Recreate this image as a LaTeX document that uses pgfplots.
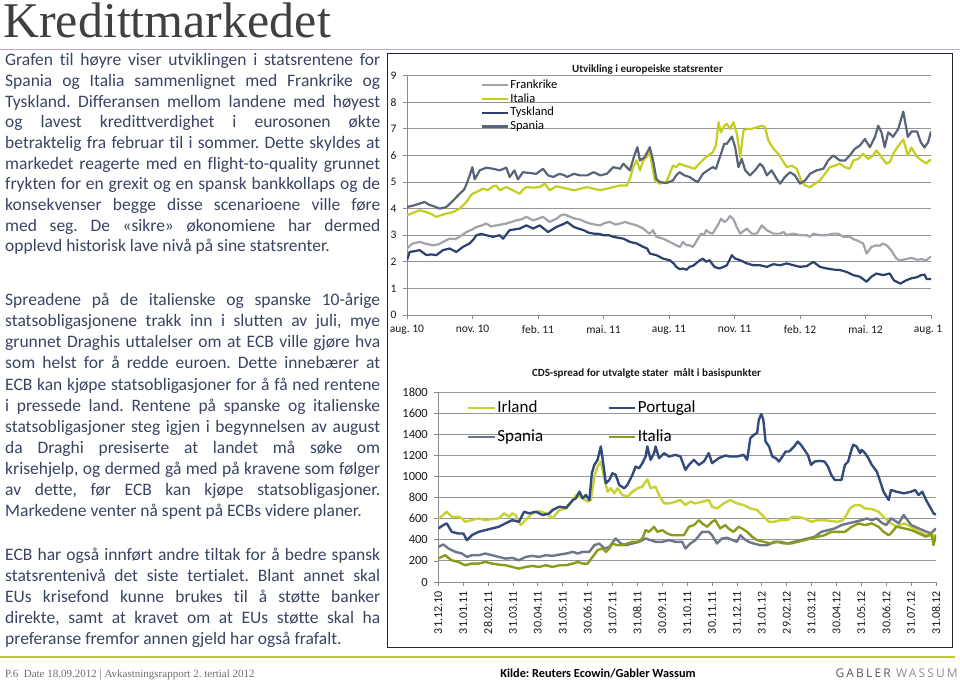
\documentclass[border=0pt]{standalone}
\usepackage{fontspec}
\setmainfont[Ligatures={TeX,NoCommon}]{Carlito}
\newfontfamily\seriffont{Liberation Serif}
\newfontfamily\gablerfont[LetterSpace=18]{Open Sans}
\usepackage{pgfplots}
\pgfplotsset{compat=1.18}
\definecolor{bodytext}{RGB}{58,68,98}
\definecolor{titlegray}{RGB}{64,64,66}
\definecolor{greenline}{RGB}{190,200,50}
\definecolor{gridgray}{RGB}{150,150,150}
\definecolor{axisgray}{RGB}{140,140,140}
\definecolor{frank}{RGB}{160,163,170}
\definecolor{italia}{RGB}{196,206,30}
\definecolor{tysk}{RGB}{45,65,110}
\definecolor{spania}{RGB}{90,100,120}
\definecolor{irland}{RGB}{200,210,50}
\definecolor{portugal}{RGB}{50,75,122}
\definecolor{spaniab}{RGB}{110,118,138}
\definecolor{italiab}{RGB}{140,155,25}
\definecolor{footgray}{RGB}{110,110,110}
\definecolor{gab1}{RGB}{85,90,95}
\definecolor{gab2}{RGB}{140,145,150}
\newcommand{\Jline}[1]{\makebox[375bp][s]{#1}}
\newcommand{\Lline}[1]{\makebox[375bp][l]{#1}}
\frenchspacing
\begin{document}
\begin{tikzpicture}[x=1bp,y=1bp]
\useasboundingbox (0,0) rectangle (960,685);
\fill[white] (0,0) rectangle (960,685);
% page title
\node[anchor=base west, inner sep=0, text height=34bp, text=titlegray, font=\seriffont\fontsize{50bp}{50bp}\selectfont] at (3,685-37.5) {Kredittmarkedet};
\draw[greenline, line width=1.6bp] (0,685-49.5) -- (960,685-49.5);
\draw[greenline, line width=2.5bp] (0,685-657) -- (955,685-657);
% body text
\node[anchor=base west, inner sep=0, text=bodytext] at (5,685-65.7) {\parbox[t]{375bp}{\fontsize{17.5bp}{20.7bp}\selectfont
\Jline{Grafen til høyre viser utviklingen i statsrentene for}\\
\Jline{Spania og Italia sammenlignet med Frankrike og}\\
\Jline{Tyskland. Differansen mellom landene med høyest}\\
\Jline{og lavest kredittverdighet i eurosonen økte}\\
\Jline{betraktelig fra februar til i sommer. Dette skyldes at}\\
\Jline{markedet reagerte med en flight-to-quality grunnet}\\
\Jline{frykten for en grexit og en spansk bankkollaps og de}\\
\Jline{konsekvenser begge disse scenarioene ville føre}\\
\Jline{med seg. De «sikre» økonomiene har dermed}\\
\Lline{opplevd historisk lave nivå på sine statsrenter.}}};
\node[anchor=base west, inner sep=0, text=bodytext] at (5,685-305.7) {\parbox[t]{375bp}{\fontsize{17.5bp}{21.1bp}\selectfont
\Jline{Spreadene på de italienske og spanske 10-årige}\\
\Jline{statsobligasjonene trakk inn i slutten av juli, mye}\\
\Jline{grunnet Draghis uttalelser om at ECB ville gjøre hva}\\
\Jline{som helst for å redde euroen. Dette innebærer at}\\
\Jline{ECB kan kjøpe statsobligasjoner for å få ned rentene}\\
\Jline{i pressede land. Rentene på spanske og italienske}\\
\Jline{statsobligasjoner steg igjen i begynnelsen av august}\\
\Jline{da Draghi presiserte at landet må søke om}\\
\Jline{krisehjelp, og dermed gå med på kravene som følger}\\
\Jline{av dette, før ECB kan kjøpe statsobligasjoner.}\\
\Lline{Markedene venter nå spent på ECBs videre planer.}}};
\node[anchor=base west, inner sep=0, text=bodytext] at (5,685-560.7) {\parbox[t]{375bp}{\fontsize{17.5bp}{21bp}\selectfont
\Jline{ECB har også innført andre tiltak for å bedre spansk}\\
\Jline{statsrentenivå det siste tertialet. Blant annet skal}\\
\Jline{EUs krisefond kunne brukes til å støtte banker}\\
\Jline{direkte, samt at kravet om at EUs støtte skal ha}\\
\Lline{preferanse fremfor annen gjeld har også frafalt.}}};
% footer
\node[anchor=base west, inner sep=0, text=footgray, font=\seriffont\fontsize{11bp}{12bp}\selectfont] at (5,685-678) {P.6\enspace Date 18.09.2012 | Avkastningsrapport 2. tertial 2012};
\node[anchor=base, inner sep=0, text=black, font=\bfseries\fontsize{12.3bp}{13bp}\selectfont] at (598,685-678) {Kilde: Reuters Ecowin/Gabler Wassum};
\node[anchor=base east, inner sep=0, font=\gablerfont\fontsize{12bp}{13bp}\selectfont] at (958,685-678) {\textcolor{gab1}{GABLER} \textcolor{gab2}{WASSUM}};
% frame
\draw[black!85, line width=0.8bp] (387,685-53) rectangle (952,685-647);
% chart titles
\node[font=\bfseries\fontsize{11bp}{13bp}\selectfont, text=black!90] at (647.5,685-69.3) {Utvikling i europeiske statsrenter};
\node[font=\bfseries\fontsize{11bp}{13bp}\selectfont, text=black!90] at (646.5,685-373.3) {CDS-spread for utvalgte stater\ \ målt i basispunkter};

% ================= chart 1 =================
\begin{axis}[
 at={(407bp,370bp)}, anchor=south west, scale only axis,
 width=524bp, height=239.3bp,
 xmin=0, xmax=24, ymin=0, ymax=9,
 axis x line*=bottom, axis y line*=left,
 axis line style={draw=axisgray, line width=0.8bp},
 ymajorgrids, grid style={draw=gridgray, line width=0.9bp},
 xtick={0,3,6,9,12,15,18,21,24},
 xticklabels={aug. 10,nov. 10,feb. 11,mai. 11,aug. 11,nov. 11,feb. 12,mai. 12,aug. 1\phantom{2}},
 ytick={0,1,2,3,4,5,6,7,8,9},
 yticklabels={0,1,2,3,4,5,6,7,8,9},
 tick align=outside, major tick length=4bp,
 tick style={draw=axisgray, line width=0.8bp},
 xticklabel style={font=\fontsize{11.5bp}{13bp}\selectfont, text=black!90, yshift=-3bp},
 yticklabel style={font=\fontsize{11.5bp}{13bp}\selectfont, text=black!90, xshift=-3bp},
 legend cell align=left,
 legend image code/.code={\draw[#1] (0bp,0bp) -- (26bp,0bp);},
 legend style={at={(axis cs:3.376,8.87)}, anchor=north west, draw=none, fill=none,
   font=\fontsize{12.5bp}{13bp}\selectfont, inner sep=0pt, column sep=1.3bp, row sep=1.7bp,
   nodes={inner sep=0pt, text height=9bp, text depth=3bp}},
 every axis plot/.append style={line width=2.2bp, line join=round},
]
\addplot[frank] coordinates {(0,2.5)(0.15,2.62)(0.27,2.69)(0.58,2.75)(0.85,2.68)(1.19,2.62)(1.45,2.66)(1.65,2.75)(1.95,2.87)(2.2,2.85)(2.41,2.94)(2.72,3.12)(2.95,3.2)(3.18,3.31)(3.4,3.36)(3.63,3.44)(3.85,3.33)(4.09,3.37)(4.3,3.4)(4.55,3.44)(4.8,3.5)(5.01,3.56)(5.25,3.6)(5.47,3.69)(5.77,3.56)(6.0,3.62)(6.23,3.69)(6.53,3.5)(6.84,3.62)(7.05,3.75)(7.22,3.78)(7.48,3.69)(7.7,3.62)(7.94,3.59)(8.15,3.5)(8.39,3.44)(8.6,3.4)(8.85,3.37)(9.05,3.46)(9.3,3.5)(9.55,3.4)(9.76,3.44)(10.0,3.5)(10.21,3.44)(10.52,3.37)(10.82,3.25)(11.0,3.12)(11.12,3.06)(11.27,3.19)(11.42,2.94)(11.73,2.87)(12.03,2.75)(12.2,2.68)(12.33,2.62)(12.5,2.56)(12.64,2.75)(12.8,2.62)(12.94,2.62)(13.1,2.56)(13.24,2.75)(13.47,3.06)(13.6,3.0)(13.7,3.19)(13.85,3.1)(14.0,3.06)(14.23,3.37)(14.38,3.62)(14.53,3.5)(14.65,3.56)(14.8,3.72)(14.95,3.6)(15.1,3.31)(15.26,3.06)(15.4,3.15)(15.56,3.25)(15.79,3.06)(16.02,3.06)(16.25,3.37)(16.48,3.19)(16.78,3.06)(17.09,3.06)(17.25,3.12)(17.39,3.0)(17.7,3.06)(18.0,3.0)(18.31,3.0)(18.45,2.94)(18.61,3.06)(18.91,3.0)(19.22,3.0)(19.52,3.06)(19.75,3.06)(19.98,2.94)(20.28,2.94)(20.45,2.85)(20.59,2.81)(20.75,2.75)(20.89,2.69)(21.05,2.31)(21.27,2.56)(21.5,2.62)(21.65,2.6)(21.8,2.69)(22.0,2.6)(22.2,2.4)(22.42,2.12)(22.59,2.05)(22.85,2.1)(23.1,2.15)(23.35,2.08)(23.6,2.1)(23.77,2.05)(24,2.2)};
\addlegendentry{Frankrike}
\addplot[italia] coordinates {(0,3.75)(0.3,3.85)(0.58,3.94)(0.89,3.87)(1.1,3.8)(1.34,3.69)(1.55,3.75)(1.8,3.81)(2.11,3.87)(2.41,4.0)(2.6,4.15)(2.72,4.25)(2.87,4.44)(2.99,4.56)(3.18,4.62)(3.48,4.75)(3.7,4.7)(3.94,4.84)(4.09,4.87)(4.24,4.69)(4.55,4.81)(4.7,4.75)(4.85,4.69)(5.16,4.56)(5.3,4.7)(5.47,4.81)(5.77,4.79)(6.08,4.81)(6.31,4.94)(6.53,4.69)(6.84,4.84)(7.05,4.8)(7.33,4.75)(7.64,4.69)(7.94,4.75)(8.24,4.81)(8.55,4.75)(8.85,4.69)(9.15,4.75)(9.45,4.81)(9.76,4.87)(10.06,4.87)(10.21,5.12)(10.36,5.56)(10.52,5.81)(10.67,5.44)(10.82,5.81)(10.97,5.94)(11.12,6.12)(11.35,5.06)(11.58,4.94)(11.88,5.0)(12.03,5.31)(12.18,5.62)(12.33,5.56)(12.48,5.69)(12.71,5.62)(12.94,5.56)(13.17,5.5)(13.39,5.69)(13.7,5.94)(14.0,6.12)(14.15,6.37)(14.27,7.25)(14.38,6.87)(14.53,7.12)(14.65,7.19)(14.8,7.0)(14.95,7.25)(15.11,6.81)(15.26,5.94)(15.41,6.94)(15.56,7.0)(15.79,7.0)(16.02,7.06)(16.25,7.12)(16.4,7.06)(16.55,6.56)(16.78,6.25)(17.01,6.06)(17.16,5.87)(17.39,5.56)(17.62,5.62)(17.85,5.5)(18.08,5.0)(18.23,4.87)(18.46,4.81)(18.69,4.94)(18.91,5.06)(19.14,5.31)(19.37,5.56)(19.6,5.62)(19.83,5.69)(20.06,5.56)(20.28,5.5)(20.44,5.81)(20.66,5.87)(20.89,6.06)(21.12,5.87)(21.35,6.0)(21.5,6.19)(21.73,5.94)(21.96,5.69)(22.11,5.75)(22.3,6.1)(22.45,6.3)(22.73,6.6)(22.94,6.0)(23.1,6.3)(23.35,5.95)(23.6,5.8)(23.77,5.7)(24,5.85)};
\addlegendentry{Italia}
\addplot[tysk] coordinates {(0,2.06)(0.12,2.37)(0.35,2.4)(0.58,2.44)(0.89,2.25)(1.1,2.28)(1.34,2.25)(1.65,2.44)(1.95,2.5)(2.26,2.37)(2.56,2.56)(2.87,2.69)(3.05,2.85)(3.18,3.0)(3.4,3.05)(3.63,3.0)(3.94,2.94)(4.24,3.0)(4.4,2.87)(4.7,3.19)(5.16,3.25)(5.47,3.37)(5.77,3.25)(6.08,3.37)(6.46,3.12)(6.84,3.31)(7.22,3.44)(7.33,3.5)(7.64,3.31)(7.85,3.25)(8.09,3.19)(8.3,3.1)(8.55,3.06)(8.8,3.05)(9.0,3.0)(9.25,3.0)(9.45,2.94)(9.7,2.9)(9.91,2.87)(10.21,2.75)(10.52,2.69)(10.82,2.56)(11.0,2.5)(11.12,2.31)(11.42,2.25)(11.73,2.12)(12.03,2.06)(12.2,1.95)(12.33,1.81)(12.5,1.72)(12.64,1.75)(12.8,1.7)(12.94,1.81)(13.1,1.85)(13.24,1.94)(13.4,2.05)(13.55,2.12)(13.7,2.0)(13.85,2.06)(14.08,1.81)(14.3,1.75)(14.5,1.81)(14.65,1.87)(14.88,2.25)(15.03,2.12)(15.26,2.06)(15.56,1.94)(15.87,1.87)(16.17,1.87)(16.48,1.81)(16.78,1.91)(17.09,1.87)(17.39,1.94)(17.7,1.87)(18.0,1.81)(18.31,1.84)(18.61,2.0)(18.91,1.81)(19.22,1.75)(19.52,1.71)(19.83,1.69)(20.13,1.62)(20.44,1.5)(20.74,1.44)(21.05,1.25)(21.27,1.44)(21.5,1.56)(21.8,1.5)(22.11,1.56)(22.3,1.3)(22.6,1.18)(22.85,1.3)(23.1,1.38)(23.35,1.42)(23.55,1.5)(23.7,1.52)(23.8,1.35)(24,1.35)};
\addlegendentry{Tyskland}
\addplot[spania] coordinates {(0,4.06)(0.3,4.12)(0.58,4.19)(0.81,4.25)(1.0,4.15)(1.19,4.1)(1.5,4.0)(1.8,4.06)(2.11,4.3)(2.41,4.56)(2.6,4.7)(2.72,4.9)(2.87,5.25)(2.99,5.56)(3.1,5.1)(3.33,5.44)(3.63,5.54)(3.94,5.5)(4.24,5.44)(4.55,5.54)(4.7,5.19)(4.92,5.44)(5.08,5.1)(5.31,5.37)(5.62,5.34)(5.92,5.31)(6.23,5.5)(6.46,5.25)(6.69,5.19)(6.99,5.31)(7.22,5.25)(7.33,5.19)(7.64,5.31)(7.94,5.25)(8.24,5.25)(8.55,5.37)(8.85,5.25)(9.15,5.31)(9.45,5.56)(9.76,5.5)(9.91,5.69)(10.06,5.56)(10.21,5.44)(10.39,5.94)(10.55,6.31)(10.67,5.81)(10.89,5.94)(11.12,6.31)(11.27,5.81)(11.42,5.12)(11.58,5.0)(11.88,4.96)(12.18,5.06)(12.33,5.25)(12.48,5.37)(12.71,5.25)(12.94,5.19)(13.17,5.06)(13.32,5.0)(13.55,5.31)(13.77,5.44)(14.0,5.56)(14.15,5.5)(14.38,6.06)(14.53,6.44)(14.65,6.44)(14.88,6.71)(15.03,6.31)(15.18,5.56)(15.33,5.87)(15.49,5.44)(15.71,5.25)(15.94,5.44)(16.17,5.69)(16.32,5.56)(16.48,5.25)(16.7,5.44)(16.93,5.12)(17.09,4.94)(17.31,5.19)(17.54,5.37)(17.77,5.25)(18.0,4.94)(18.23,5.06)(18.46,5.31)(18.76,5.44)(19.07,5.5)(19.29,5.81)(19.52,6.0)(19.83,5.81)(20.06,5.81)(20.28,6.0)(20.51,6.25)(20.74,6.37)(20.97,6.62)(21.2,6.31)(21.43,6.69)(21.58,7.12)(21.73,6.87)(21.88,6.31)(22.04,6.87)(22.26,6.7)(22.5,7.0)(22.73,7.65)(22.94,6.7)(23.11,6.9)(23.36,6.9)(23.53,6.5)(23.7,6.3)(23.87,6.5)(24,6.9)};
\addlegendentry{Spania}
\end{axis}

% ================= chart 2 =================
\begin{axis}[
 at={(438.3bp,103bp)}, anchor=south west, scale only axis,
 width=497.7bp, height=189.7bp,
 xmin=0, xmax=20, ymin=0, ymax=1800,
 axis x line*=bottom, axis y line*=left,
 axis line style={draw=axisgray, line width=0.8bp},
 ymajorgrids, grid style={draw=gridgray, line width=0.9bp},
 xtick={0,1,2,3,4,5,6,7,8,9,10,11,12,13,14,15,16,17,18,19,20},
 xticklabels={31.12.10,31.01.11,28.02.11,31.03.11,30.04.11,31.05.11,30.06.11,31.07.11,31.08.11,30.09.11,31.10.11,30.11.11,31.12.11,31.01.12,29.02.12,31.03.12,30.04.12,31.05.12,30.06.12,31.07.12,31.08.12},
 ytick={0,200,400,600,800,1000,1200,1400,1600,1800},
 yticklabels={0,200,400,600,800,1000,1200,1400,1600,1800},
 tick align=outside, major tick length=4bp,
 tick style={draw=axisgray, line width=0.8bp},
 xticklabel style={font=\fontsize{12bp}{14bp}\selectfont, text=black!90, rotate=90, anchor=east, xshift=-2bp},
 yticklabel style={font=\fontsize{12.5bp}{14bp}\selectfont, text=black!90, xshift=-3bp},
 legend columns=2,
 legend cell align=left,
 legend image code/.code={\draw[#1] (0bp,0bp) -- (26.6bp,0bp);},
 legend style={at={(axis cs:1.14,1724)}, anchor=north west, draw=none, fill=none,
   font=\fontsize{17bp}{18bp}\selectfont, inner sep=0pt, column sep=1.5bp, row sep=13.5bp,
   nodes={inner sep=0pt, text height=12bp, text depth=3.5bp}},
 every axis plot/.append style={line width=2.4bp, line join=round},
]
\addplot[irland] coordinates {(0,603)(0.2,635)(0.34,667)(0.54,619)(0.81,619)(0.95,603)(1.08,571)(1.35,587)(1.62,603)(1.89,587)(2.16,597)(2.43,603)(2.64,651)(2.84,619)(2.97,651)(3.11,635)(3.31,540)(3.51,587)(3.78,651)(4.05,673)(4.32,651)(4.59,603)(4.86,683)(5.14,698)(5.41,778)(5.53,825)(5.8,794)(6.0,762)(6.13,778)(6.27,1000)(6.4,1095)(6.53,1143)(6.67,984)(6.8,857)(6.93,889)(7.07,841)(7.2,889)(7.4,825)(7.6,810)(7.8,857)(8.0,889)(8.2,905)(8.33,952)(8.4,975)(8.53,889)(8.73,905)(8.87,825)(9.07,746)(9.27,746)(9.53,762)(9.73,778)(9.93,730)(10.13,762)(10.33,746)(10.6,762)(10.87,778)(11.0,714)(11.2,698)(11.47,746)(11.73,778)(12.0,746)(12.27,730)(12.54,698)(12.81,683)(13.08,619)(13.29,571)(13.49,571)(13.76,587)(14.03,587)(14.23,619)(14.44,619)(14.71,603)(14.98,571)(15.25,587)(15.52,587)(15.79,578)(16.06,571)(16.26,587)(16.4,635)(16.54,698)(16.74,730)(16.94,730)(17.15,698)(17.42,692)(17.69,667)(17.89,619)(18.1,571)(18.19,557)(18.41,525)(18.71,557)(19.0,525)(19.3,478)(19.6,446)(19.82,430)(20,446)};
\addlegendentry{\makebox[108.5bp][l]{Irland}}
\addplot[portugal] coordinates {(0,508)(0.2,540)(0.34,556)(0.54,476)(0.81,460)(1.01,460)(1.15,397)(1.35,444)(1.62,476)(1.89,492)(2.16,508)(2.43,524)(2.7,556)(2.97,587)(3.24,571)(3.45,667)(3.65,651)(3.92,667)(4.19,635)(4.46,651)(4.59,683)(4.86,714)(5.14,705)(5.41,778)(5.53,794)(5.67,857)(5.8,794)(5.93,825)(6.07,778)(6.17,1032)(6.27,1111)(6.4,1159)(6.53,1286)(6.6,1175)(6.73,937)(6.87,968)(7.0,1032)(7.13,1016)(7.27,921)(7.47,889)(7.6,921)(7.8,1016)(7.93,1095)(8.07,1079)(8.2,1127)(8.33,1191)(8.4,1286)(8.53,1159)(8.67,1222)(8.73,1286)(8.87,1175)(9.07,1222)(9.27,1191)(9.53,1206)(9.73,1191)(9.93,1064)(10.07,1111)(10.27,1159)(10.47,1111)(10.67,1143)(10.87,1222)(11.0,1127)(11.27,1175)(11.53,1200)(11.73,1191)(12.0,1191)(12.27,1206)(12.41,1159)(12.54,1365)(12.68,1397)(12.81,1413)(12.88,1540)(12.98,1594)(13.06,1540)(13.15,1333)(13.29,1286)(13.42,1191)(13.56,1175)(13.69,1143)(13.83,1191)(13.96,1238)(14.1,1238)(14.3,1286)(14.44,1333)(14.57,1302)(14.71,1254)(14.85,1206)(14.98,1111)(15.12,1143)(15.32,1149)(15.52,1143)(15.66,1095)(15.79,1016)(15.93,968)(16.2,968)(16.34,1111)(16.47,1143)(16.58,1238)(16.67,1302)(16.81,1286)(16.95,1222)(17.01,1254)(17.15,1222)(17.28,1175)(17.42,1111)(17.62,1048)(17.76,952)(17.89,857)(18.1,778)(18.19,873)(18.41,857)(18.71,841)(19.0,857)(19.16,873)(19.3,825)(19.45,857)(19.6,778)(19.75,715)(19.9,651)(20,640)};
\addlegendentry{Portugal}
\addplot[spaniab] coordinates {(0,333)(0.2,356)(0.41,318)(0.68,286)(0.95,270)(1.15,238)(1.35,254)(1.62,254)(1.89,270)(2.16,254)(2.43,238)(2.7,222)(2.97,229)(3.24,206)(3.51,238)(3.78,248)(4.05,238)(4.32,254)(4.59,248)(4.86,260)(5.14,270)(5.41,286)(5.6,270)(5.8,286)(6.07,286)(6.27,349)(6.47,365)(6.67,318)(6.87,333)(7.13,413)(7.33,365)(7.53,349)(7.8,365)(8.07,381)(8.33,413)(8.53,397)(8.73,381)(9.0,381)(9.27,397)(9.53,381)(9.8,381)(9.93,318)(10.13,365)(10.33,397)(10.6,476)(10.87,476)(11.0,444)(11.2,365)(11.4,413)(11.6,420)(11.8,400)(12.0,381)(12.14,444)(12.27,413)(12.47,381)(12.68,365)(12.95,349)(13.22,349)(13.49,381)(13.76,381)(14.03,365)(14.3,381)(14.57,397)(14.85,413)(15.12,429)(15.39,476)(15.66,492)(15.93,508)(16.2,540)(16.47,556)(16.74,571)(17.01,587)(17.22,603)(17.42,587)(17.62,603)(17.83,560)(18.0,540)(18.2,604)(18.5,557)(18.7,636)(19.0,541)(19.3,509)(19.6,478)(19.8,462)(20,509)};
\addlegendentry{Spania}
\addplot[italiab] coordinates {(0,222)(0.27,254)(0.54,206)(0.81,190)(1.08,159)(1.35,175)(1.62,175)(1.89,190)(2.16,175)(2.43,165)(2.7,159)(2.97,143)(3.24,127)(3.51,143)(3.78,152)(4.05,143)(4.32,159)(4.59,143)(4.86,159)(5.14,159)(5.41,175)(5.6,190)(5.8,175)(6.0,175)(6.2,238)(6.4,302)(6.6,318)(6.73,286)(6.87,318)(7.0,365)(7.2,349)(7.4,349)(7.6,365)(7.8,381)(8.0,381)(8.2,413)(8.33,492)(8.47,476)(8.67,524)(8.8,476)(9.0,492)(9.2,460)(9.4,444)(9.67,444)(9.87,444)(10.07,524)(10.27,540)(10.47,587)(10.6,556)(10.8,524)(11.0,571)(11.13,587)(11.33,508)(11.53,540)(11.66,508)(11.86,476)(12.07,524)(12.2,508)(12.41,476)(12.61,429)(12.81,397)(13.08,381)(13.35,365)(13.62,381)(13.9,365)(14.17,365)(14.44,381)(14.71,397)(14.98,413)(15.25,429)(15.52,444)(15.79,476)(16.07,476)(16.34,476)(16.61,524)(16.88,556)(17.15,540)(17.42,556)(17.69,524)(17.89,476)(18.1,444)(18.19,462)(18.41,525)(18.71,509)(19.0,493)(19.3,462)(19.6,430)(19.82,462)(19.9,351)(20,446)};
\addlegendentry{Italia}
\end{axis}
\end{tikzpicture}
\end{document}
